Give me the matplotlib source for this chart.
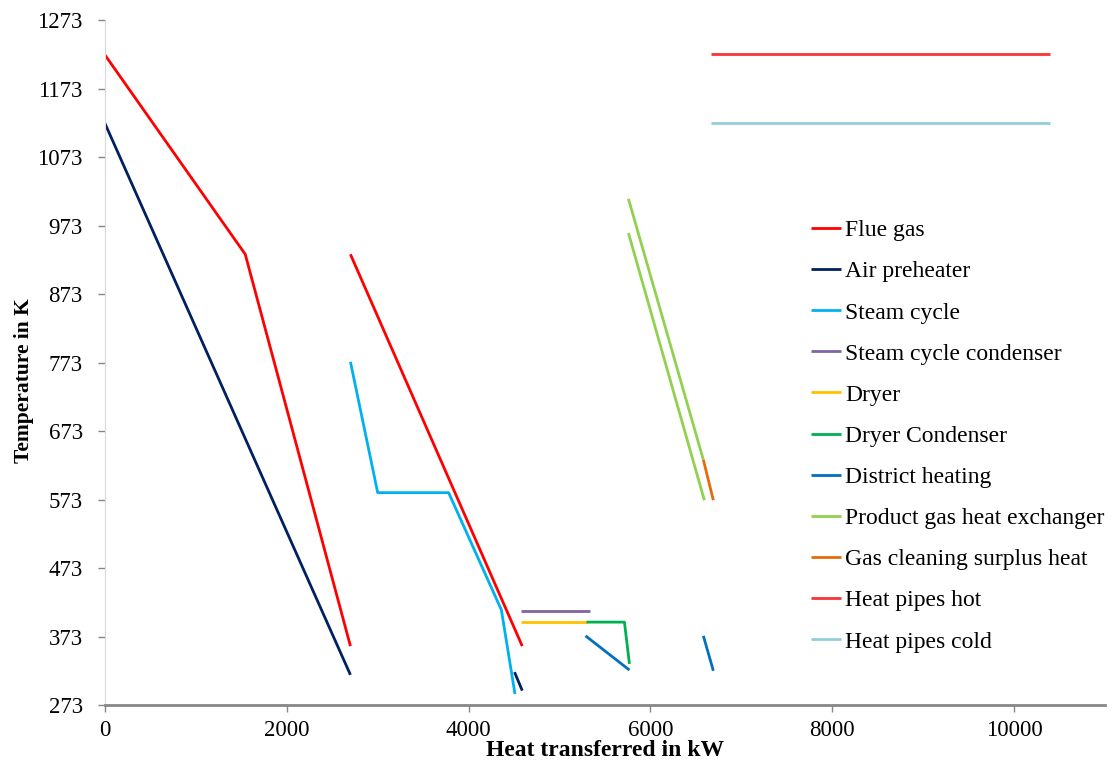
import numpy as np
import matplotlib
matplotlib.use("Agg")
import matplotlib.pyplot as plt

nan = np.nan

# composite curves (x in kW, y in K)
flue_x = [0, 1543, 2700, nan, 2700, 4590]
flue_y = [1222, 931, 359, nan, 931, 359]
air_x = [0, 2700, nan, 4505, 4590]
air_y = [1122, 317, nan, 321, 294]
steam_x = [2700, 3000, 3780, 4360, 4510]
steam_y = [774, 583, 583, 412, 289]
cond_x = [4571, 5330]
cond_y = [410, 410]
dryer_x = [4571, 5297]
dryer_y = [394, 394]
dcond_x = [5297, 5714, 5769]
dcond_y = [394, 394, 333]
dh_x = [5286, 5769, nan, 6582, 6692]
dh_y = [374, 324, nan, 374, 323]
pg_x = [5758, 6582, nan, 5758, 6593]
pg_y = [1012, 631, nan, 962, 572]
gc_x = [6582, 6692]
gc_y = [631, 572]
hot_x = [6663, 10391]
hot_y = [1223, 1223]
cold_x = [6663, 10391]
cold_y = [1123, 1123]

series = [
    ("Flue gas", flue_x, flue_y, "#ff0000"),
    ("Air preheater", air_x, air_y, "#002060"),
    ("Steam cycle", steam_x, steam_y, "#00b0f0"),
    ("Steam cycle condenser", cond_x, cond_y, "#8064a2"),
    ("Dryer", dryer_x, dryer_y, "#ffc000"),
    ("Dryer Condenser", dcond_x, dcond_y, "#00b050"),
    ("District heating", dh_x, dh_y, "#0070c0"),
    ("Product gas heat exchanger", pg_x, pg_y, "#92d050"),
    ("Gas cleaning surplus heat", gc_x, gc_y, "#e46c0a"),
    ("Heat pipes hot", hot_x, hot_y, "#f83434"),
    ("Heat pipes cold", cold_x, cold_y, "#93cddd"),
]

yticks = [273, 373, 473, 573, 673, 773, 873, 973, 1073, 1173, 1273]
xticks = [0, 2000, 4000, 6000, 8000, 10000]

plt.rcParams['font.family'] = ['Liberation Serif', 'DejaVu Serif']

fig = plt.figure(figsize=(11.12, 7.71), dpi=100)
ax = fig.add_axes([0.0944, 0.0856, 0.8993, 0.8884])

for name, xs, ys, col in series:
    ax.plot(xs, ys, color=col, lw=2.0, label=name, solid_capstyle='butt')

ax.set_xlim(0, 11000)
ax.set_ylim(273, 1273)
ax.set_xticks(xticks)
ax.set_yticks(yticks)
ax.tick_params(labelsize=16.5, labelcolor='#000000', length=5, width=1, color='#868686')
ax.tick_params(axis='y', pad=11)
ax.tick_params(axis='x', pad=6)

for s in ['top', 'right']:
    ax.spines[s].set_visible(False)
ax.spines['left'].set_color('#d9d9d9')
ax.spines['bottom'].set_color('#868686')
ax.spines['bottom'].set_linewidth(2)

ax.set_xlabel("Heat transferred in kW", fontsize=17, fontweight='bold', labelpad=-1)
ax.set_ylabel("Temperature in K", fontsize=15.5, fontweight='bold')
ax.yaxis.set_label_coords(-0.071, 0.473)

ax.legend(loc='upper left', bbox_to_anchor=(0.7293, 0.715), bbox_transform=fig.transFigure,
          frameon=False, fontsize=17, handlelength=1.27, handletextpad=0.17,
          labelspacing=0.83, borderpad=0, borderaxespad=0)

fig.savefig("out.png", dpi=100)
